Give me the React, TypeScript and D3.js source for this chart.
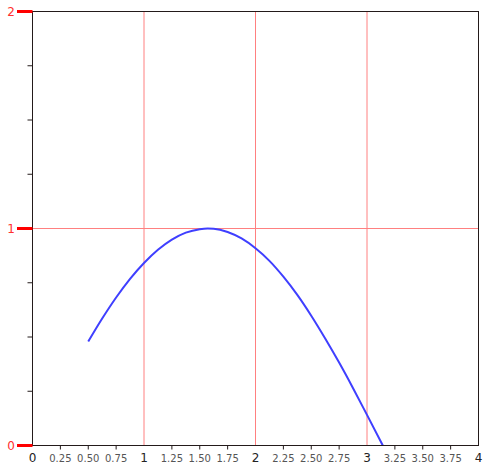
import React from "react";
import * as d3 from "d3";

const curveX = [0.5, 0.625, 0.75, 0.875, 1.0, 1.125, 1.25, 1.375, 1.5, 1.571, 1.625, 1.75, 1.875, 2.0, 2.125, 2.25, 2.375, 2.5, 2.625, 2.75, 2.875, 3.0, 3.1416];
const curveY = [0.479, 0.585, 0.682, 0.768, 0.841, 0.902, 0.949, 0.981, 0.997, 1.0, 0.999, 0.984, 0.954, 0.909, 0.851, 0.778, 0.694, 0.598, 0.493, 0.382, 0.264, 0.141, 0.0];

const xMajorTicks = [0, 1, 2, 3, 4];
const xMinorTicks = [0.25, 0.5, 0.75, 1.25, 1.5, 1.75, 2.25, 2.5, 2.75, 3.25, 3.5, 3.75];
const xMinorLabels = ["0.25", "0.50", "0.75", "1.25", "1.50", "1.75", "2.25", "2.50", "2.75", "3.25", "3.50", "3.75"];
const yMajorTicks = [0, 1, 2];
const yMinorTicks = [0.25, 0.5, 0.75, 1.25, 1.5, 1.75];

const W = 488, H = 471;
const L = 32.5, R = 478.5, T = 11.5, B = 445.5;

export default function App() {
  const x = d3.scaleLinear().domain([0, 4]).range([L, R]);
  const y = d3.scaleLinear().domain([0, 2]).range([B, T]);
  const pts = curveX.map((v, i) => [v, curveY[i]] as [number, number]);
  const line = d3.line<[number, number]>().x(d => x(d[0])).y(d => y(d[1])).curve(d3.curveMonotoneX);
  const font = "'DejaVu Sans', Verdana, sans-serif";
  return (
    <svg width={W} height={H} style={{ position: "absolute", left: 0, top: 0, background: "#fff" }}>
      {/* grid */}
      {xMajorTicks.filter(v => v > 0 && v < 4).map(v => (
        <line key={"gx" + v} x1={x(v)} x2={x(v)} y1={T} y2={B} stroke="#ff8080" strokeWidth={1} />
      ))}
      {yMajorTicks.filter(v => v > 0 && v < 2).map(v => (
        <line key={"gy" + v} x1={L} x2={R} y1={y(v)} y2={y(v)} stroke="#ff8080" strokeWidth={1} />
      ))}
      {/* curve */}
      <path d={line(pts) || ""} fill="none" stroke="#3f3fff" strokeWidth={2} />
      {/* frame */}
      <rect x={L} y={T} width={R - L} height={B - T} fill="none" stroke="#231a1a" strokeWidth={1} />
      {/* y ticks */}
      {yMinorTicks.map(v => (
        <line key={"ym" + v} x1={L - 5} x2={L} y1={y(v)} y2={y(v)} stroke="#231a1a" strokeWidth={1} />
      ))}
      {yMajorTicks.map(v => (
        <g key={"yM" + v}>
          <line x1={17} x2={L} y1={y(v)} y2={y(v)} stroke="#ff0000" strokeWidth={3} />
          <text x={11} y={y(v)} dy="0.36em" textAnchor="middle" fill="#ff3030" fontSize={12} fontFamily={font}>{v}</text>
        </g>
      ))}
      {/* x ticks */}
      {xMinorTicks.map((v, i) => (
        <g key={"xm" + v}>
          <line x1={x(v)} x2={x(v)} y1={B} y2={B + 4} stroke="#231a1a" strokeWidth={1} />
          <text x={x(v)} y={B + 16} textAnchor="middle" fill="#555" fontSize={10} fontFamily={font}>{xMinorLabels[i]}</text>
        </g>
      ))}
      {xMajorTicks.map(v => (
        <text key={"xM" + v} x={x(v)} y={B + 16} textAnchor="middle" fill="#222" fontSize={12} fontFamily={font}>{v}</text>
      ))}
    </svg>
  );
}
